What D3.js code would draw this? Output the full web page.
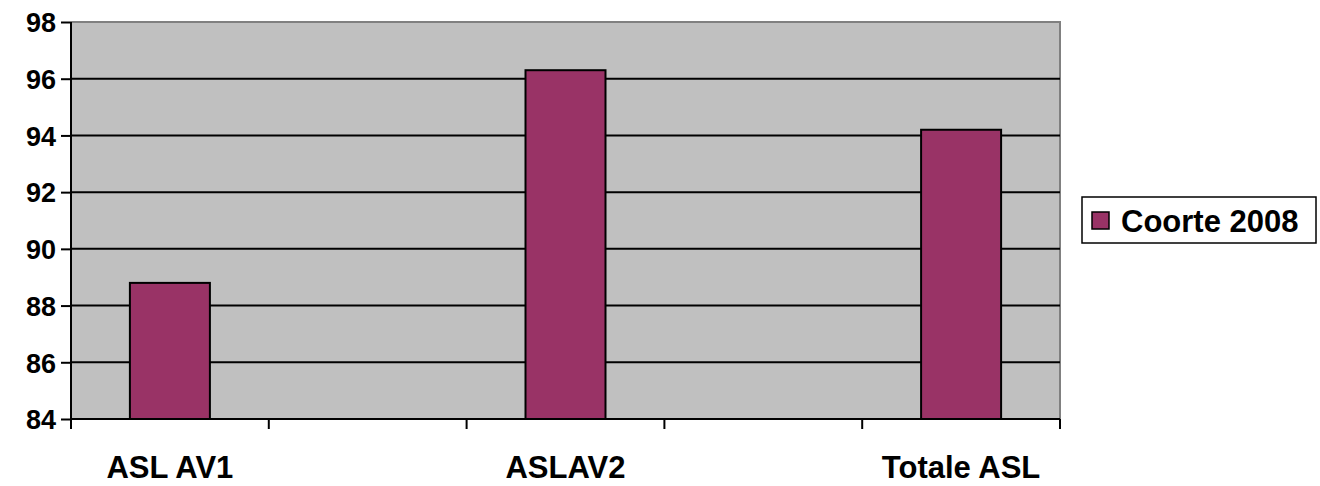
<!DOCTYPE html>
<html><head><meta charset="utf-8">
<script src="https://cdn.jsdelivr.net/npm/d3@7"></script>
<style>html,body{margin:0;padding:0;background:#fff;}svg{display:block;}</style>
</head><body>
<script>
const categories = ["ASL AV1", "", "ASLAV2", "", "Totale ASL"];
const values = [88.8, null, 96.3, null, 94.2];
const seriesName = "Coorte 2008";
const yTicks = [84, 86, 88, 90, 92, 94, 96, 98];

const W = 1320, H = 486;
const m = {left: 71, top: 22, right: 1060, bottom: 419};
const font = "'Liberation Sans', Arial, sans-serif";
const svg = d3.select("body").append("svg").attr("width", W).attr("height", H);

const x = d3.scaleBand().domain(d3.range(categories.length)).range([m.left, m.right]).paddingInner(0).paddingOuter(0);
const y = d3.scaleLinear().domain([84, 98]).range([m.bottom, m.top]);

svg.append("rect").attr("x", m.left).attr("y", m.top).attr("width", m.right - m.left).attr("height", m.bottom - m.top)
  .attr("fill", "#C0C0C0");
svg.append("path").attr("d", `M${m.left},${m.top}H${m.right}V${m.bottom}`).attr("fill", "none").attr("stroke", "#808080").attr("stroke-width", 2);

// gridlines
svg.append("g").selectAll("line").data(yTicks.filter(t => t > 84 && t < 98)).join("line")
  .attr("x1", m.left).attr("x2", m.right).attr("y1", d => y(d)).attr("y2", d => y(d))
  .attr("stroke", "#000").attr("stroke-width", 2);

// bars
const bw = 80;
svg.append("g").selectAll("rect").data(values.map((v, i) => ({v, i})).filter(d => d.v != null)).join("rect")
  .attr("x", d => x(d.i) + x.bandwidth() / 2 - bw / 2)
  .attr("y", d => y(d.v))
  .attr("width", bw)
  .attr("height", d => y(84) - y(d.v))
  .attr("fill", "#993366").attr("stroke", "#000").attr("stroke-width", 2);

// y axis
const yAxis = svg.append("g").attr("transform", `translate(${m.left},0)`)
  .call(d3.axisLeft(y).tickValues(yTicks).tickSize(10).tickPadding(5).tickFormat(d3.format("d")));
yAxis.select(".domain").attr("stroke", "#000").attr("stroke-width", 2).attr("d", `M0,${m.top}V${m.bottom}`);
yAxis.selectAll(".tick line").attr("stroke", "#000").attr("stroke-width", 2);
yAxis.selectAll(".tick text").attr("font-family", font).attr("font-weight", "bold").attr("font-size", 27).attr("fill", "#000").attr("dy", "0.36em");

// x axis
const xAxis = svg.append("g").attr("transform", `translate(0,${m.bottom})`);
xAxis.append("line").attr("x1", m.left).attr("x2", m.right).attr("stroke", "#000").attr("stroke-width", 2);
const bounds = d3.range(categories.length + 1).map(i => m.left + i * x.step());
xAxis.selectAll("line.t").data(bounds).join("line").attr("class", "t")
  .attr("x1", d => d).attr("x2", d => d).attr("y1", 0).attr("y2", 10).attr("stroke", "#000").attr("stroke-width", 2);
xAxis.selectAll("text").data(categories.map((c, i) => ({c, i})).filter(d => d.c)).join("text")
  .attr("x", d => x(d.i) + x.bandwidth() / 2).attr("y", 59)
  .attr("text-anchor", "middle").attr("font-family", font).attr("font-weight", "bold").attr("font-size", 31)
  .text(d => d.c);

// legend
const lg = svg.append("g");
lg.append("rect").attr("x", 1082).attr("y", 197).attr("width", 234).attr("height", 46).attr("fill", "#fff").attr("stroke", "#000").attr("stroke-width", 1.5);
lg.append("rect").attr("x", 1092).attr("y", 212).attr("width", 17).attr("height", 17).attr("fill", "#993366").attr("stroke", "#000").attr("stroke-width", 1.5);
lg.append("text").attr("x", 1121).attr("y", 232).attr("font-family", font).attr("font-weight", "bold").attr("font-size", 31).text(seriesName);
</script>
</body></html>
